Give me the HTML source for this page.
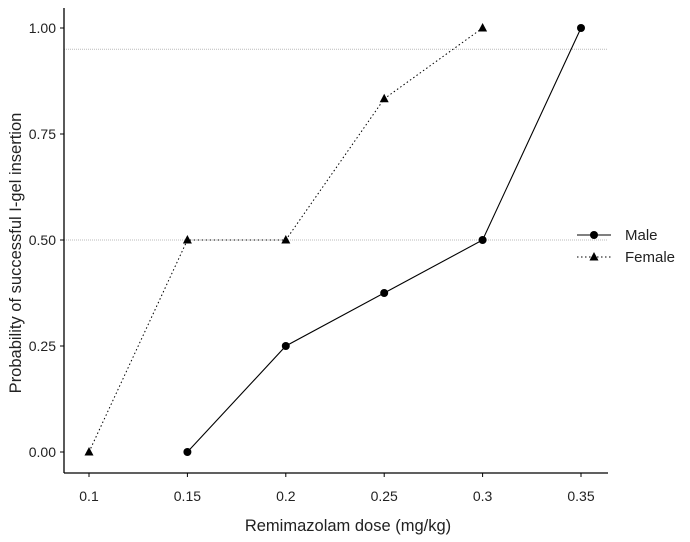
<!DOCTYPE html>
<html><head><meta charset="utf-8"><style>
html,body{margin:0;padding:0;background:#fff;}
svg{display:block;font-family:"Liberation Sans",Arial,sans-serif;}
</style></head><body>
<svg id="chart" width="690" height="542">
<g id="grid"></g><g id="axes"></g><g id="series"></g><g id="legend"></g>
</svg>
<script>
const doses=[0.1,0.15,0.2,0.25,0.3,0.35];
const xTickLabels=["0.1","0.15","0.2","0.25","0.3","0.35"];
const yTicks=[0,0.25,0.5,0.75,1];
const yTickLabels=["0.00","0.25","0.50","0.75","1.00"];
const maleX=[0.15,0.2,0.25,0.3,0.35];
const maleY=[0,0.25,0.375,0.5,1];
const femaleX=[0.1,0.15,0.2,0.25,0.3];
const femaleY=[0,0.5,0.5,0.833,1];
const refLines=[0.5,0.95];
const NS="http://www.w3.org/2000/svg";
const X=v=>89+(v-0.1)/0.05*98.4;
const Y=v=>452-v*424;
function mk(t,a,p){const e=document.createElementNS(NS,t);for(const k in a)e.setAttribute(k,a[k]);p.appendChild(e);return e;}
const grid=document.getElementById('grid'),axes=document.getElementById('axes'),ser=document.getElementById('series'),leg=document.getElementById('legend');
refLines.forEach(v=>{const l=mk('line',{x1:64,x2:607,y1:Y(v),y2:Y(v),stroke:'#bbb','stroke-width':1,'stroke-dasharray':'1,1'},grid);

});
let a=mk('line',{x1:64,x2:64,y1:8,y2:473,stroke:'#000','stroke-width':1.3},axes);

a=mk('line',{x1:64,x2:608,y1:473,y2:473,stroke:'#000','stroke-width':1.3},axes);

yTicks.forEach((v,i)=>{mk('line',{x1:60,x2:64,y1:Y(v),y2:Y(v),stroke:'#000'},axes);
const t=mk('text',{x:56,y:Y(v)+5,'text-anchor':'end','font-size':14,fill:'#222'},axes);t.textContent=yTickLabels[i];

});
doses.forEach((v,i)=>{mk('line',{x1:X(v),x2:X(v),y1:473,y2:477,stroke:'#000'},axes);
const t=mk('text',{x:X(v),y:501,'text-anchor':'middle','font-size':14,fill:'#222'},axes);t.textContent=xTickLabels[i];

});
let t=mk('text',{x:348,y:531,'text-anchor':'middle','font-size':16.5,fill:'#222'},axes);t.textContent='Remimazolam dose (mg/kg)';

t=mk('text',{x:0,y:0,'text-anchor':'middle','font-size':16.5,fill:'#222',transform:'translate(21,253) rotate(-90)'},axes);t.textContent='Probability of successful I-gel insertion';

function tri(x,y,p){return mk('polygon',{points:`${x},${y-5} ${x-4.5},${y+3.5} ${x+4.5},${y+3.5}`,fill:'#000'},p);}
let fp=mk('polyline',{points:femaleX.map((v,i)=>X(v)+','+Y(femaleY[i])).join(' '),fill:'none',stroke:'#000','stroke-width':1,'stroke-dasharray':'1.5,2.5'},ser);

femaleX.forEach((v,i)=>{const m=tri(X(v),Y(femaleY[i]),ser);

});
let mp=mk('polyline',{points:maleX.map((v,i)=>X(v)+','+Y(maleY[i])).join(' '),fill:'none',stroke:'#000','stroke-width':1.1},ser);

maleX.forEach((v,i)=>{const m=mk('circle',{cx:X(v),cy:Y(maleY[i]),r:4,fill:'#000'},ser);

});
let g=mk('g',{},leg);
mk('line',{x1:577,x2:611,y1:235,y2:235,stroke:'#000','stroke-width':1.1},g);mk('circle',{cx:594,cy:235,r:4,fill:'#000'},g);
t=mk('text',{x:625,y:240,'font-size':15,fill:'#222'},g);t.textContent='Male';
g=mk('g',{},leg);
mk('line',{x1:577,x2:611,y1:257,y2:257,stroke:'#000','stroke-width':1,'stroke-dasharray':'1.5,2.5'},g);tri(594,257,g);
t=mk('text',{x:625,y:262,'font-size':15,fill:'#222'},g);t.textContent='Female';
</script>
</body></html>
